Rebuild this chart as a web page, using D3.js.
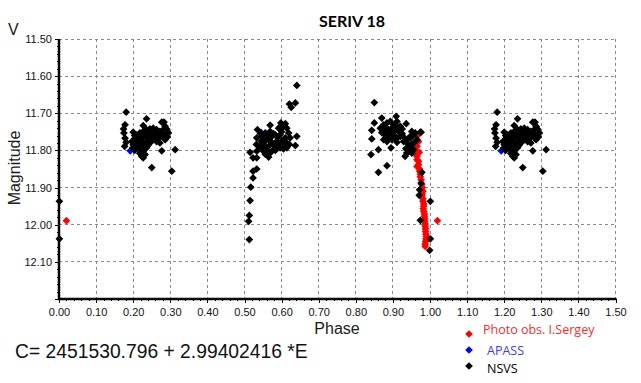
<!DOCTYPE html>
<html>
<head>
<meta charset="utf-8">
<script src="https://cdn.jsdelivr.net/npm/d3@7"></script>
<style>
body{margin:0;background:#fff;}
.chart{width:641px;height:383px;}
text{font-family:"Liberation Sans",Arial,sans-serif;}
</style>
</head>
<body>
<div class="chart"></div>
<script>
//Data: [phase, magnitude]
//phases are kept in 0..1, the part below 0.5 is drawn again at phase+1
const photoObs = [
	[0.020,11.989],
	[0.965,11.762],[0.969,11.776],[0.965,11.789],[0.957,11.795],[0.960,11.802],[0.971,11.805],
	[0.963,11.811],[0.965,11.816],[0.965,11.825],[0.969,11.829],[0.969,11.838],[0.965,11.843],
	[0.972,11.850],[0.972,11.856],[0.974,11.864],[0.974,11.871],[0.976,11.879],[0.978,11.892],
	[0.979,11.900],[0.981,11.910],[0.979,11.917],[0.978,11.923],[0.981,11.930],[0.981,11.937],
	[0.983,11.944],[0.983,11.950],[0.982,11.957],[0.983,11.964],[0.985,11.971],[0.985,11.977],
	[0.986,11.984],[0.986,11.991],[0.987,11.998],[0.987,12.004],[0.988,12.011],[0.988,12.018],
	[0.989,12.025],[0.990,12.031],[0.989,12.038],[0.988,12.045],[0.987,12.052],[0.987,12.058]
];

const apass = [[0.192,11.801],[0.545,11.752]];

const nsvs = [
	//first maximum
	[0.181,11.697],[0.236,11.715],[0.277,11.724],[0.283,11.724],[0.227,11.733],[0.178,11.731],
	[0.174,11.742],[0.175,11.753],[0.178,11.767],[0.181,11.778],[0.177,11.789],[0.277,11.801],
	[0.313,11.798],[0.250,11.846],[0.304,11.856],
	[0.200,11.751],[0.209,11.758],[0.218,11.753],[0.227,11.749],[0.236,11.744],[0.245,11.742],
	[0.254,11.740],[0.263,11.744],[0.272,11.749],[0.281,11.744],[0.290,11.742],[0.295,11.753],
	[0.292,11.764],[0.286,11.771],[0.277,11.762],[0.268,11.758],[0.259,11.762],[0.250,11.758],
	[0.241,11.753],[0.232,11.762],[0.223,11.767],[0.214,11.771],[0.205,11.776],[0.200,11.785],
	[0.209,11.789],[0.218,11.785],[0.227,11.780],[0.236,11.776],[0.245,11.780],[0.254,11.771],
	[0.263,11.776],[0.272,11.780],[0.218,11.798],[0.227,11.802],[0.232,11.811],[0.223,11.816],
	[0.236,11.793],[0.214,11.780],[0.205,11.767],[0.196,11.776],[0.199,11.793],
	[0.204,11.760],[0.213,11.762],[0.222,11.758],[0.231,11.755],[0.240,11.765],[0.249,11.766],
	[0.258,11.752],[0.267,11.768],[0.281,11.756],[0.287,11.760],[0.222,11.776],[0.231,11.790],
	[0.240,11.786],[0.213,11.792],[0.204,11.800],[0.227,11.820],[0.218,11.808],[0.250,11.750],
	[0.286,11.735],
	//second maximum
	[0.641,11.625],[0.637,11.672],[0.621,11.675],[0.626,11.684],[0.569,11.732],[0.598,11.726],
	[0.610,11.728],[0.535,11.744],[0.641,11.762],[0.637,11.787],[0.533,11.766],[0.532,11.784],
	[0.533,11.802],[0.515,11.805],[0.523,11.820],[0.533,11.820],[0.565,11.818],[0.523,11.856],
	[0.533,11.850],[0.523,11.874],[0.517,11.899],[0.515,11.935],[0.513,11.975],[0.511,11.991],
	[0.513,12.040],
	[0.547,11.762],[0.551,11.780],[0.547,11.793],[0.556,11.753],[0.560,11.771],[0.565,11.789],
	[0.560,11.802],[0.569,11.749],[0.574,11.762],[0.574,11.780],[0.578,11.798],[0.583,11.758],
	[0.587,11.775],[0.587,11.789],[0.592,11.740],[0.596,11.758],[0.596,11.793],[0.605,11.735],
	[0.614,11.740],[0.619,11.753],[0.623,11.766],[0.621,11.784],[0.614,11.793],[0.605,11.796],
	[0.601,11.775],[0.610,11.766],[0.551,11.802],[0.569,11.807],
	[0.552,11.770],[0.556,11.790],[0.565,11.760],[0.570,11.775],[0.578,11.755],[0.580,11.785],
	[0.590,11.765],[0.592,11.782],[0.600,11.750],[0.583,11.800],[0.556,11.810],[0.563,11.800],
	[0.615,11.780],[0.608,11.786],[0.543,11.755],[0.545,11.775],[0.540,11.790],
	//before the minimum
	[0.850,11.671],[0.909,11.708],[0.870,11.713],[0.850,11.726],[0.936,11.728],[0.843,11.746],
	[0.843,11.769],[0.841,11.811],[0.861,11.798],[0.861,11.859],[0.884,11.841],[0.895,11.793],
	[0.976,11.751],
	[0.866,11.740],[0.875,11.731],[0.884,11.726],[0.893,11.722],[0.902,11.731],[0.911,11.722],
	[0.920,11.735],[0.915,11.749],[0.906,11.744],[0.897,11.740],[0.888,11.744],[0.879,11.749],
	[0.875,11.771],[0.884,11.776],[0.897,11.771],[0.911,11.767],[0.920,11.762],[0.902,11.758],
	[0.893,11.762],[0.929,11.776],[0.951,11.749],[0.956,11.758],[0.947,11.767],[0.938,11.780],
	[0.942,11.793],[0.951,11.784],[0.956,11.798],[0.938,11.807],[0.933,11.816],[0.951,11.807],
	[0.911,11.778],
	[0.947,11.762],[0.956,11.780],[0.951,11.798],[0.960,11.753],[0.938,11.807],[0.965,11.771],
	[0.974,11.751],
	[0.870,11.752],[0.880,11.760],[0.890,11.752],[0.899,11.750],[0.907,11.735],[0.916,11.740],
	[0.925,11.755],[0.930,11.765],[0.935,11.795],[0.945,11.800],[0.940,11.770],[0.925,11.742],
	[0.878,11.738],[0.906,11.765],[0.888,11.770],
	//minimum
	[0.978,11.859],[0.976,11.888],[0.972,11.906],[0.971,11.921],[0.974,11.988],
	[0.001,11.937],[0.001,12.038],[0.999,12.069]
];

const xTicks = d3.range(0, 16).map(function(i){return i/10;});
const yTicks = d3.range(0, 8).map(function(i){return 11.5 + i/10;});

const series = [
	{name:'Photo obs. I.Sergey', data:photoObs, color:'#ff0000', textColor:'#ff2a2a'},
	{name:'APASS', data:apass, color:'#0000ff', textColor:'#3c3cf0'},
	{name:'NSVS', data:nsvs, color:'#000000', textColor:'#000000'}
];

//Prep work
const W = 641, H = 383;
const margin = {t:39, r:25, b:84, l:59};
const w = W - margin.l - margin.r;
const h = H - margin.t - margin.b;

const svg = d3.select('.chart')
	.append('svg')
		.attr('width', W)
		.attr('height', H);

const plot = svg.append('g')
	.attr('class','plot')
	.attr('transform', `translate(${margin.l}, ${margin.t})`);

const scaleX = d3.scaleLinear().domain([0, 1.5]).range([0, 556.5]);
const scaleY = d3.scaleLinear().domain([11.5, 12.2]).range([0, 260]);

const diamond = d3.symbol().type(d3.symbolSquare).size(30);

//grid
plot.selectAll('.grid-x')
	.data(xTicks.filter(function(d){return d > 0;}))
	.enter().append('line').attr('class','grid-x')
	.attr('x1', function(d){return scaleX(d);})
	.attr('x2', function(d){return scaleX(d);})
	.attr('y1', 0).attr('y2', h);
plot.selectAll('.grid-y')
	.data(yTicks)
	.enter().append('line').attr('class','grid-y')
	.attr('x1', 0).attr('x2', scaleX(1.5))
	.attr('y1', function(d){return scaleY(d);})
	.attr('y2', function(d){return scaleY(d);});
plot.selectAll('.grid-x, .grid-y')
	.style('stroke', '#8a8a8a')
	.style('stroke-width', 1)
	.style('stroke-dasharray', '3,3')
	.attr('shape-rendering', 'crispEdges');

//axes
const fmt = d3.format('.2f');
const axisX = d3.axisBottom(scaleX)
	.tickValues(xTicks)
	.tickFormat(fmt)
	.tickSize(4).tickSizeOuter(0).tickPadding(5);
const axisXMinor = d3.axisBottom(scaleX)
	.tickValues(d3.range(0, 76).map(function(i){return i*0.02;}))
	.tickFormat('').tickSize(2).tickSizeOuter(0);
const axisY = d3.axisLeft(scaleY)
	.tickValues(yTicks)
	.tickFormat(function(d){return d > 12.15 ? '' : fmt(d);})
	.tickSize(4).tickSizeOuter(0).tickPadding(3);
const axisYMinor = d3.axisLeft(scaleY)
	.tickValues(d3.range(0, 36).map(function(i){return 11.5 + i*0.02;}))
	.tickFormat('').tickSize(2).tickSizeOuter(0);

[axisXMinor, axisX].forEach(function(a){
	plot.append('g').attr('transform', `translate(0, ${h})`).call(a);
});
[axisYMinor, axisY].forEach(function(a){
	plot.append('g').call(a);
});
plot.selectAll('.domain').remove();
plot.selectAll('.tick line').style('stroke', '#000').attr('shape-rendering', 'crispEdges');
plot.selectAll('.tick text')
	.style('font-size', '11px')
	.style('fill', '#111');

plot.append('line')
	.attr('x1', 0).attr('x2', 0).attr('y1', 0).attr('y2', h + 1)
	.style('stroke', '#000').style('stroke-width', 2.5);
plot.append('line')
	.attr('x1', -1).attr('x2', scaleX(1.5) + 1).attr('y1', h).attr('y2', h)
	.style('stroke', '#000').style('stroke-width', 2.5);

//points; the first half of the cycle is repeated after phase 1
function unfold(data){
	const out = data.slice();
	data.forEach(function(d){
		if(d[0] < 0.5) out.push([d[0] + 1, d[1]]);
	});
	return out;
}

series.forEach(function(s){
	plot.append('g')
		.selectAll('path')
		.data(unfold(s.data))
		.enter().append('path')
		.attr('d', diamond)
		.attr('transform', function(d){
			return `translate(${scaleX(d[0])}, ${scaleY(d[1])}) rotate(45)`;
		})
		.style('fill', s.color);
});

//titles
svg.append('text')
	.attr('x', 352).attr('y', 27)
	.attr('text-anchor', 'middle')
	.style('font-family', 'Lato, sans-serif')
	.style('font-weight', 'bold')
	.style('font-size', '16px')
	.text('SERIV 18');
svg.append('text')
	.attr('x', 8).attr('y', 35)
	.style('font-size', '16px')
	.style('fill', '#1a1a1a')
	.text('V');
svg.append('text')
	.attr('transform', 'translate(20, 168) rotate(-90)')
	.attr('text-anchor', 'middle')
	.style('font-size', '16px')
	.style('fill', '#1a1a1a')
	.text('Magnitude');
svg.append('text')
	.attr('x', 337).attr('y', 334)
	.attr('text-anchor', 'middle')
	.style('font-size', '16px')
	.style('fill', '#1a1a1a')
	.text('Phase');
svg.append('text')
	.attr('x', 15).attr('y', 358)
	.style('font-size', '19.3px')
	.style('fill', '#111')
	.text('C= 2451530.796 + 2.99402416 *E');

//legend
const legendY = [0, 16, 32];
const legendText = [{x:14, y:0}, {x:18, y:21}, {x:18, y:38.5}];
const legend = svg.append('g').attr('transform', 'translate(469, 334)');
legend.selectAll('.mark')
	.data(series)
	.enter().append('path').attr('class','mark')
	.attr('d', diamond)
	.attr('transform', function(d, i){return `translate(0, ${legendY[i]}) rotate(45)`;})
	.style('fill', function(d){return d.color;});
legend.selectAll('.label')
	.data(series)
	.enter().append('text').attr('class','label')
	.attr('x', function(d, i){return legendText[i].x;})
	.attr('y', function(d, i){return legendText[i].y;})
	.style('font-family', '"Open Sans", sans-serif')
	.style('font-size', '12.5px')
	.style('fill', function(d){return d.textColor;})
	.text(function(d){return d.name;});
</script>
</body>
</html>
